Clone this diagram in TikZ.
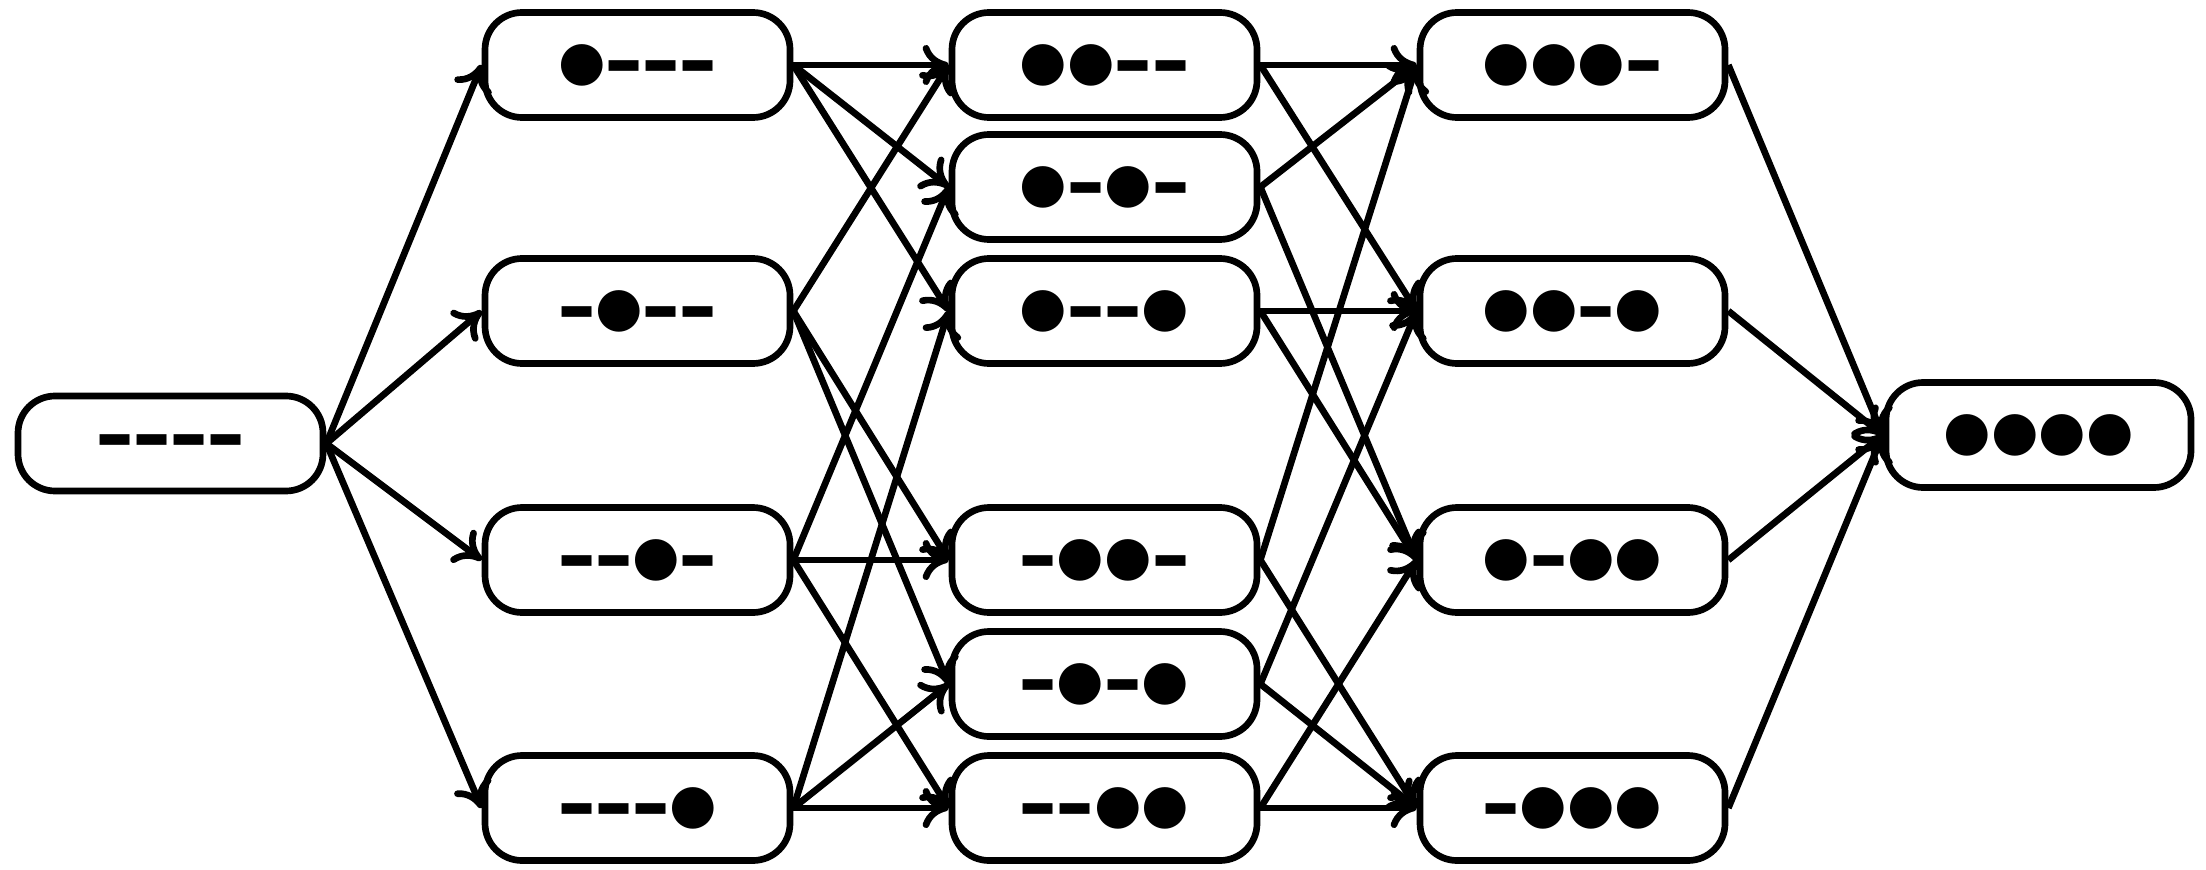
\documentclass[tikz,border=0pt]{standalone}
\usepackage{fontspec}
\setmainfont{DejaVu Sans}
\usepackage{tikz}
\usetikzlibrary{arrows.meta,positioning}
\newcommand{\on}{●}
\newcommand{\off}{\raisebox{0.1em}{\scalebox{0.72}[0.53]{▬}}}

\begin{document}
\begin{tikzpicture}[line width=1.9pt, >={Computer Modern Rightarrow[length=2.6mm, width=4mm]},
  state/.style={draw, rounded corners=3.7mm, fill=white, minimum width=3.05cm, minimum height=1.05cm, inner sep=0pt, font=\fontsize{15.5}{18}\selectfont}]
  \useasboundingbox (0,0) rectangle (22.06,-8.69);
  % Rank 0 and 4
  \node[state, minimum height=0.95cm] (b0000) at (1.705,-4.435) {\off\off\off\off};
  \node[state] (b1111) at (20.385,-4.35) {\on\on\on\on};
  % Rank 1
  \node[state] (b1000) at (6.375,-0.65) {\on\off\off\off};
  \node[state] (b0100) at (6.375,-3.11) {\off\on\off\off};
  \node[state] (b0010) at (6.375,-5.60) {\off\off\on\off};
  \node[state] (b0001) at (6.375,-8.08) {\off\off\off\on};
  % Rank 2
  \node[state] (b1100) at (11.045,-0.65) {\on\on\off\off};
  \node[state] (b1010) at (11.045,-1.87) {\on\off\on\off};
  \node[state] (b1001) at (11.045,-3.11) {\on\off\off\on};
  \node[state] (b0110) at (11.045,-5.60) {\off\on\on\off};
  \node[state] (b0101) at (11.045,-6.84) {\off\on\off\on};
  \node[state] (b0011) at (11.045,-8.08) {\off\off\on\on};
  % Rank 3
  \node[state] (b1110) at (15.725,-0.65) {\on\on\on\off};
  \node[state] (b1101) at (15.725,-3.11) {\on\on\off\on};
  \node[state] (b1011) at (15.725,-5.60) {\on\off\on\on};
  \node[state] (b0111) at (15.725,-8.08) {\off\on\on\on};

  % Arrows rank 0 -> 1
  \draw[->] (b0000.east) -- (b1000.west);
  \draw[->] (b0000.east) -- (b0100.west);
  \draw[->] (b0000.east) -- (b0010.west);
  \draw[->] (b0000.east) -- (b0001.west);
  % Arrows rank 1 -> 2
  \draw[->] (b1000.east) -- (b1100.west);
  \draw[->] (b1000.east) -- (b1010.west);
  \draw[->] (b1000.east) -- (b1001.west);
  \draw[->] (b0100.east) -- (b1100.west);
  \draw[->] (b0100.east) -- (b0110.west);
  \draw[->] (b0100.east) -- (b0101.west);
  \draw[->] (b0010.east) -- (b1010.west);
  \draw[->] (b0010.east) -- (b0110.west);
  \draw[->] (b0010.east) -- (b0011.west);
  \draw[->] (b0001.east) -- (b1001.west);
  \draw[->] (b0001.east) -- (b0101.west);
  \draw[->] (b0001.east) -- (b0011.west);
  % Arrows rank 2 -> 3
  \draw[->] (b1100.east) -- (b1110.west);
  \draw[->] (b1100.east) -- (b1101.west);
  \draw[->] (b1010.east) -- (b1110.west);
  \draw[->] (b1010.east) -- (b1011.west);
  \draw[->] (b1001.east) -- (b1101.west);
  \draw[->] (b1001.east) -- (b1011.west);
  \draw[->] (b0110.east) -- (b1110.west);
  \draw[->] (b0110.east) -- (b0111.west);
  \draw[->] (b0101.east) -- (b1101.west);
  \draw[->] (b0101.east) -- (b0111.west);
  \draw[->] (b0011.east) -- (b1011.west);
  \draw[->] (b0011.east) -- (b0111.west);
  % Arrows rank 3 -> 4
  \draw[->] (b1110.east) -- (b1111.west);
  \draw[->] (b1101.east) -- (b1111.west);
  \draw[->] (b1011.east) -- (b1111.west);
  \draw[->] (b0111.east) -- (b1111.west);
\end{tikzpicture}
\end{document}
